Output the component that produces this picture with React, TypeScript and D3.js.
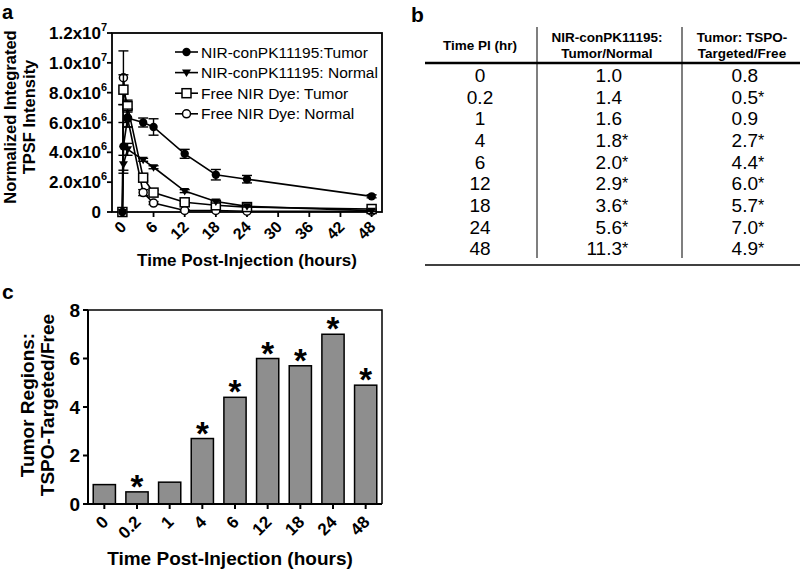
import React from "react";
import * as d3 from "d3";

const FONT = "'Liberation Sans', Arial, Helvetica, sans-serif";

// Panel a data (values in units of 1e6)
const times = [0, 0.2, 1, 4, 6, 12, 18, 24, 48];
const tumorMean = [0, 4.4, 6.3, 6.0, 5.7, 3.9, 2.5, 2.2, 1.05];
const tumorErr = [0, 1.6, 0.6, 0.3, 0.55, 0.3, 0.35, 0.25, 0.1];
const normalMean = [0, 3.2, 4.2, 3.5, 3.0, 1.4, 0.7, 0.38, 0.09];
const normalErr = [0, 0.6, 0.4, 0.1, 0.1, 0.1, 0.1, 0.05, 0.05];
const freeTumorMean = [0, 8.2, 7.1, 2.3, 1.3, 0.65, 0.45, 0.33, 0.2];
const freeTumorErr = [0, 1.0, 0.4, 0.2, 0.15, 0.1, 0.15, 0.1, 0.05];
const freeNormalMean = [0, 9.0, 6.3, 1.3, 0.6, 0.1, 0.1, 0.05, 0.05];
const freeNormalErr = [0, 1.8, 0.6, 0.2, 0.1, 0.05, 0.05, 0.05, 0.05];
const seriesNames = [
  "NIR-conPK11195:Tumor",
  "NIR-conPK11195: Normal",
  "Free NIR Dye: Tumor",
  "Free NIR Dye: Normal",
];
const xTicksA = [0, 6, 12, 18, 24, 30, 36, 42, 48];
const yTicksA = [0, 2, 4, 6, 8, 10, 12];
const yTickBaseA = ["0", "2.0x10", "4.0x10", "6.0x10", "8.0x10", "1.0x10", "1.2x10"];
const yTickExpA = ["", "6", "6", "6", "6", "7", "7"];

// Panel b data
const tableTimes = ["0", "0.2", "1", "4", "6", "12", "18", "24", "48"];
const ratioTN = ["1.0", "1.4", "1.6", "1.8", "2.0", "2.9", "3.6", "5.6", "11.3"];
const ratioTNSig = [false, false, false, true, true, true, true, true, true];
const ratioTF = ["0.8", "0.5", "0.9", "2.7", "4.4", "6.0", "5.7", "7.0", "4.9"];
const ratioTFSig = [false, true, false, true, true, true, true, true, true];

// Panel c data
const barLabels = ["0", "0.2", "1", "4", "6", "12", "18", "24", "48"];
const barValues = [0.8, 0.5, 0.9, 2.7, 4.4, 6.0, 5.7, 7.0, 4.9];
const barSig = [false, true, false, true, true, true, true, true, true];
const yTicksC = [0, 2, 4, 6, 8];

type Kind = "circle" | "tri" | "square" | "ocircle";

function Marker({ kind, x, y }: { kind: Kind; x: number; y: number }) {
  if (kind === "circle") return <circle cx={x} cy={y} r={4.2} fill="#000" />;
  if (kind === "ocircle")
    return <circle cx={x} cy={y} r={4} fill="#fff" stroke="#000" strokeWidth={1.5} />;
  if (kind === "square")
    return <rect x={x - 4.5} y={y - 4.5} width={9} height={9} fill="#fff" stroke="#000" strokeWidth={1.5} />;
  const p = d3.path();
  p.moveTo(x - 4.5, y - 3);
  p.lineTo(x + 4.5, y - 3);
  p.lineTo(x, y + 4.5);
  p.closePath();
  return <path d={p.toString()} fill="#000" />;
}

export default function App() {
  // ---------- Panel a ----------
  const ax = d3.scaleLinear().domain([-2, 50]).range([112, 382]);
  const ay = d3.scaleLinear().domain([0, 12]).range([212, 33]);
  const series = [
    { name: seriesNames[0], mean: tumorMean, err: tumorErr, kind: "circle" as Kind },
    { name: seriesNames[1], mean: normalMean, err: normalErr, kind: "tri" as Kind },
    { name: seriesNames[2], mean: freeTumorMean, err: freeTumorErr, kind: "square" as Kind },
    { name: seriesNames[3], mean: freeNormalMean, err: freeNormalErr, kind: "ocircle" as Kind },
  ];
  const line = d3
    .line<number>()
    .x((_, i) => ax(times[i]))
    .y((d) => ay(d));
  const drawOrder = [3, 2, 1, 0];

  // ---------- Panel c ----------
  const cx = d3.scaleBand<string>().domain(barLabels).range([88, 382]).paddingInner(0.32).paddingOuter(0.16);
  const cy = d3.scaleLinear().domain([0, 8]).range([504, 310]);

  // ---------- Panel b ----------
  const rowY = d3.scaleLinear().domain([0, 8]).range([82, 255.4]);

  return (
    <div style={{ position: "absolute", left: 0, top: 0 }}>
      <svg width={800} height={575} style={{ display: "block", fontFamily: FONT }}>
        <rect width={800} height={575} fill="#fff" />

        {/* Panel labels */}
        <text x={2} y={19} fontSize={20} fontWeight="bold">a</text>
        <text x={411} y={22} fontSize={21} fontWeight="bold">b</text>
        <text x={2} y={299} fontSize={21} fontWeight="bold">c</text>

        {/* ===== Panel a ===== */}
        <g>
          {/* frame */}
          <rect x={112} y={33} width={270} height={179} fill="none" stroke="#000" strokeWidth={1.8} />
          {/* y ticks */}
          {yTicksA.map((t, i) => (
            <g key={"ya" + t}>
              <line x1={107} x2={112} y1={ay(t)} y2={ay(t)} stroke="#000" strokeWidth={1.8} />
              <text x={101} y={ay(t) + 6} fontSize={17} fontWeight="bold" textAnchor="end">
                {yTickBaseA[i]}
              </text>
              {yTickExpA[i] && (
                <text x={101} y={ay(t) - 2} fontSize={11} fontWeight="bold">
                  {yTickExpA[i]}
                </text>
              )}
            </g>
          ))}
          {/* x ticks */}
          {xTicksA.map((t) => (
            <g key={"xa" + t}>
              <line x1={ax(t)} x2={ax(t)} y1={212} y2={217} stroke="#000" strokeWidth={1.8} />
              <text
                transform={`translate(${ax(t) + 5},${228}) rotate(-45)`}
                fontSize={16}
                fontWeight="bold"
                textAnchor="end"
              >
                {t}
              </text>
            </g>
          ))}
          <text x={247} y={266} fontSize={17} fontWeight="bold" textAnchor="middle">
            Time Post-Injection (hours)
          </text>
          <text transform="translate(16,117) rotate(-90)" fontSize={16.5} fontWeight="bold" textAnchor="middle">
            Normalized Integrated
          </text>
          <text transform="translate(35,117) rotate(-90)" fontSize={16.5} fontWeight="bold" textAnchor="middle">
            TPSF Intensity
          </text>

          {/* series */}
          {drawOrder.map((si) => {
            const s = series[si];
            return (
              <g key={"s" + si}>
                <path d={line(s.mean) || ""} fill="none" stroke="#000" strokeWidth={1.6} />
                {s.mean.map((m, i) =>
                  s.err[i] > 0 ? (
                    <g key={"e" + i}>
                      <line x1={ax(times[i])} x2={ax(times[i])} y1={ay(m - s.err[i])} y2={ay(m + s.err[i])} stroke="#000" strokeWidth={1.4} />
                      <line x1={ax(times[i]) - 5} x2={ax(times[i]) + 5} y1={ay(m + s.err[i])} y2={ay(m + s.err[i])} stroke="#000" strokeWidth={1.4} />
                      <line x1={ax(times[i]) - 5} x2={ax(times[i]) + 5} y1={ay(m - s.err[i])} y2={ay(m - s.err[i])} stroke="#000" strokeWidth={1.4} />
                    </g>
                  ) : null
                )}
                {s.mean.map((m, i) => (
                  <Marker key={"m" + i} kind={s.kind} x={ax(times[i])} y={ay(m)} />
                ))}
              </g>
            );
          })}

          {/* legend */}
          {series.map((s, i) => {
            const y = 52 + i * 20.6;
            return (
              <g key={"lg" + i}>
                <line x1={175} x2={198} y1={y} y2={y} stroke="#000" strokeWidth={1.6} />
                <Marker kind={s.kind} x={186.5} y={y} />
                <text x={201} y={y + 5.5} fontSize={15.5}>
                  {s.name}
                </text>
              </g>
            );
          })}
        </g>

        {/* ===== Panel b ===== */}
        <g>
          <line x1={537} x2={537} y1={27} y2={258} stroke="#555" strokeWidth={1.5} />
          <line x1={682} x2={682} y1={27} y2={258} stroke="#555" strokeWidth={1.5} />
          <line x1={425} x2={800} y1={63} y2={63} stroke="#000" strokeWidth={2.5} />
          <line x1={425} x2={800} y1={265} y2={265} stroke="#000" strokeWidth={1.5} />
          <text x={480} y={50} fontSize={13.5} fontWeight="bold" textAnchor="middle">Time PI (hr)</text>
          <text x={607} y={42} fontSize={13.5} fontWeight="bold" textAnchor="middle">NIR-conPK11195:</text>
          <text x={607} y={58} fontSize={13.5} fontWeight="bold" textAnchor="middle">Tumor/Normal</text>
          <text x={742} y={42} fontSize={13.5} fontWeight="bold" textAnchor="middle">Tumor: TSPO-</text>
          <text x={742} y={58} fontSize={13.5} fontWeight="bold" textAnchor="middle">Targeted/Free</text>
          {tableTimes.map((t, i) => (
            <g key={"row" + i} fontSize={19}>
              <text x={480} y={rowY(i)} textAnchor="middle">{t}</text>
              <text x={622} y={rowY(i)} textAnchor="end">{ratioTN[i]}</text>
              {ratioTNSig[i] && <text x={622} y={rowY(i) - 1} fontSize={16}>*</text>}
              <text x={758} y={rowY(i)} textAnchor="end">{ratioTF[i]}</text>
              {ratioTFSig[i] && <text x={758} y={rowY(i) - 1} fontSize={16}>*</text>}
            </g>
          ))}
        </g>

        {/* ===== Panel c ===== */}
        <g>
          {barLabels.map((l, i) => (
            <g key={"bar" + i}>
              <rect
                x={cx(l)!}
                y={cy(barValues[i])}
                width={cx.bandwidth()}
                height={cy(0) - cy(barValues[i])}
                fill="#8e8e8e"
                stroke="#000"
                strokeWidth={1.5}
              />
              {barSig[i] && (
                <text
                  x={cx(l)! + cx.bandwidth() / 2}
                  y={cy(barValues[i]) + 6}
                  fontSize={33}
                  fontWeight="bold"
                  textAnchor="middle"
                >
                  *
                </text>
              )}
            </g>
          ))}
          <path d="M88,310 H382 V504" fill="none" stroke="#000" strokeWidth={1.5} />
          <line x1={88} x2={88} y1={310} y2={504} stroke="#000" strokeWidth={2} />
          <line x1={88} x2={382} y1={504} y2={504} stroke="#000" strokeWidth={2} />
          {yTicksC.map((t) => (
            <g key={"yc" + t}>
              <line x1={83} x2={88} y1={cy(t)} y2={cy(t)} stroke="#000" strokeWidth={2} />
              <text x={80} y={cy(t) + 6.5} fontSize={19} fontWeight="bold" textAnchor="end">{t}</text>
            </g>
          ))}
          {barLabels.map((l) => {
            const x = cx(l)! + cx.bandwidth() / 2;
            return (
              <g key={"xc" + l}>
                <line x1={x} x2={x} y1={504} y2={509} stroke="#000" strokeWidth={2} />
                <text transform={`translate(${x + 5},${523}) rotate(-45)`} fontSize={17} fontWeight="bold" textAnchor="end">
                  {l}
                </text>
              </g>
            );
          })}
          <text x={230} y={565} fontSize={19} fontWeight="bold" textAnchor="middle">
            Time Post-Injection (hours)
          </text>
          <text transform="translate(34,405) rotate(-90)" fontSize={19} fontWeight="bold" textAnchor="middle">
            Tumor Regions:
          </text>
          <text transform="translate(54,405) rotate(-90)" fontSize={19} fontWeight="bold" textAnchor="middle">
            TSPO-Targeted/Free
          </text>
        </g>
      </svg>
    </div>
  );
}
